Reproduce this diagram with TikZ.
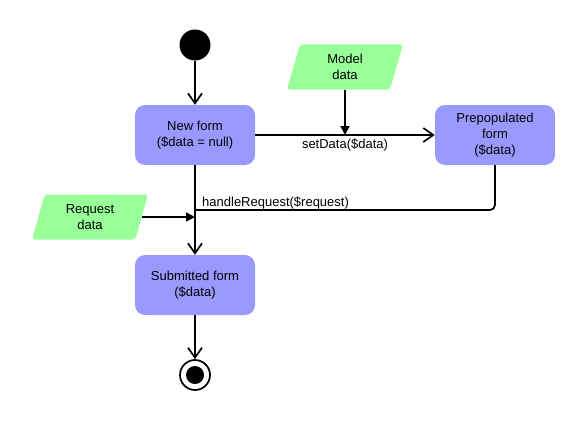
\documentclass[tikz,border=0pt]{standalone}
\usepackage{fontspec}
\setmainfont{Liberation Sans}
\usetikzlibrary{shapes.geometric, arrows.meta, positioning}
\definecolor{stateBlue}{RGB}{153,153,255}
\definecolor{dataGreen}{RGB}{153,255,153}

\begin{document}
\begin{tikzpicture}[x=1pt, y=-1pt,
    state/.style={rectangle, rounded corners=10pt, fill=stateBlue, minimum width=120pt, minimum height=60pt, align=center, font=\fontsize{13}{16}\selectfont},
    datain/.style={trapezium, trapezium left angle=63, trapezium right angle=117, trapezium stretches body, fill=dataGreen, rounded corners=3pt, minimum width=116pt, minimum height=45pt, inner sep=0pt, align=center, font=\fontsize{13}{16}\selectfont},
    flow/.style={-{Straight Barb[length=10pt, width=14pt]}, line width=1.7pt},
    feed/.style={-{Triangle[length=9pt, width=9pt]}, line width=1.7pt},
    msg/.style={font=\fontsize{13}{16}\selectfont, inner sep=1pt}]
    \useasboundingbox (0,0) rectangle (585,420);

    % States
    \node[circle, fill=black, minimum size=31pt, inner sep=0pt] (start) at (195,45) {};
    \node[state] (new) at (195,135) {New form\\(\$data = null)};
    \node[state] (prep) at (495,135) {Prepopulated\\form\\(\$data)};
    \node[state] (sub) at (195,285) {Submitted form\\(\$data)};
    \node[circle, draw, line width=1.7pt, minimum size=30pt, inner sep=0pt] (end) at (195,375) {};
    \node[circle, fill=black, minimum size=18pt, inner sep=0pt] (endDot) at (end) {};

    % Data
    \node[datain] (model) at (345,67) {Model\\data};
    \node[datain] (req) at (90,217) {Request\\data};

    % Transitions
    \coordinate (setin) at (345,135);
    \coordinate (join) at (195,210);
    \coordinate (reqin) at (195,217);
    \draw[flow] (start) -- (new);
    \draw[flow] (new) -- node[msg, below=2pt] (setLabel) {setData(\$data)} (prep);
    \draw[feed] (model) -- (setin);
    \draw[flow] (new) -- (sub);
    \draw[line width=1.7pt, rounded corners=5pt] (prep) |- (join);
    \node[msg, above right=0pt and 6pt of join] (hrLabel) {handleRequest(\$request)};
    \draw[feed] (req) -- (reqin);
    \draw[flow] (sub) -- (end);
\end{tikzpicture}
\end{document}
